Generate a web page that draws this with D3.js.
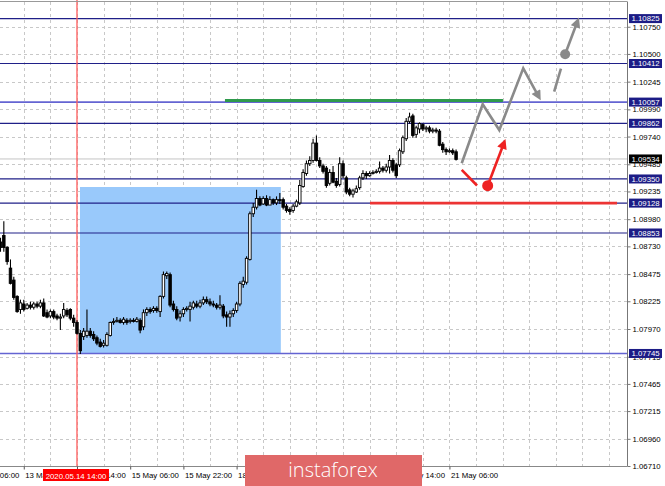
<!DOCTYPE html>
<html><head><meta charset="utf-8">
<script src="https://cdn.jsdelivr.net/npm/d3@7"></script>
<style>
body{margin:0;background:#fff;}
svg{display:block;font-family:"Liberation Sans",Arial,sans-serif;}
</style>
</head><body>
<svg id="chart" width="665" height="486"></svg>
<script>
// ---------- DATA ----------
const firstBar = -23; // bar index of the first candle (0 = 2020.05.14 14:00)
// [open, high, low, close]
const candles = [
[1.0877,1.0881,1.0868,1.0872],[1.0883,1.0896,1.0868,1.0872],[1.0872,1.0873,1.0856,1.0859],[1.0853,1.0861,1.0838,1.0839],
[1.0842,1.0845,1.0824,1.0826],[1.0827,1.0828,1.0812,1.0813],[1.0815,1.0824,1.0811,1.0821],[1.0820,1.0824,1.0813,1.0815],
[1.0816,1.0821,1.0815,1.0819],[1.0819,1.0822,1.0815,1.0817],[1.0817,1.0822,1.0815,1.0820],[1.0820,1.0822,1.0816,1.0818],
[1.0818,1.0824,1.0816,1.0821],[1.0821,1.0825,1.0808,1.0809],[1.0812,1.0815,1.0807,1.0808],[1.0809,1.0815,1.0807,1.0813],
[1.0813,1.0815,1.0806,1.0808],[1.0809,1.0811,1.0805,1.0807],[1.0807,1.0811,1.0796,1.0808],[1.0809,1.0821,1.0807,1.0815],
[1.0814,1.0816,1.0808,1.0810],[1.0815,1.0816,1.0805,1.0807],[1.0807,1.0810,1.0799,1.0803],
[1.0803,1.0805,1.0792,1.0793],[1.0793,1.0796,1.0774,1.0777],[1.0790,1.0798,1.0787,1.0795],[1.0791,1.0815,1.0789,1.0795],
[1.0795,1.0798,1.0789,1.0791],[1.0792,1.0795,1.0786,1.0788],[1.0789,1.0791,1.0782,1.0784],[1.0785,1.0788,1.0780,1.0781],
[1.0782,1.0787,1.0780,1.0784],[1.0782,1.0794,1.0781,1.0792],[1.0791,1.0804,1.0790,1.0803],[1.0803,1.0807,1.0801,1.0804],
[1.0804,1.0808,1.0803,1.0805],[1.0805,1.0807,1.0802,1.0803],[1.0803,1.0808,1.0801,1.0806],[1.0805,1.0807,1.0801,1.0803],
[1.0804,1.0807,1.0802,1.0805],[1.0805,1.0807,1.0803,1.0804],[1.0804,1.0808,1.0803,1.0806],[1.0805,1.0807,1.0793,1.0796],
[1.0799,1.0815,1.0796,1.0812],[1.0812,1.0817,1.0809,1.0815],[1.0815,1.0817,1.0811,1.0813],[1.0814,1.0818,1.0812,1.0816],
[1.0816,1.0818,1.0812,1.0814],[1.0813,1.0828,1.0808,1.0827],[1.0827,1.0850,1.0825,1.0847],[1.0846,1.0850,1.0843,1.0848],
[1.0847,1.0849,1.0817,1.0819],[1.0820,1.0823,1.0813,1.0815],[1.0815,1.0818,1.0805,1.0807],[1.0808,1.0814,1.0804,1.0811],
[1.0811,1.0817,1.0808,1.0815],[1.0815,1.0818,1.0813,1.0816],[1.0815,1.0822,1.0804,1.0818],[1.0817,1.0823,1.0815,1.0821],
[1.0820,1.0823,1.0816,1.0818],[1.0818,1.0824,1.0816,1.0821],[1.0821,1.0827,1.0819,1.0824],[1.0824,1.0827,1.0820,1.0822],
[1.0822,1.0825,1.0818,1.0820],[1.0820,1.0823,1.0817,1.0819],[1.0819,1.0821,1.0815,1.0817],[1.0817,1.0828,1.0815,1.0819],
[1.0818,1.0820,1.0807,1.0809],[1.0810,1.0813,1.0799,1.0808],[1.0808,1.0814,1.0799,1.0811],[1.0811,1.0816,1.0808,1.0814],
[1.0814,1.0822,1.0812,1.0820],[1.0820,1.0841,1.0818,1.0839],[1.0838,1.0845,1.0835,1.0841],[1.0840,1.0864,1.0838,1.0862],
[1.0861,1.0905,1.0860,1.0903],[1.0903,1.0913,1.0900,1.0909],[1.0909,1.0925,1.0907,1.0917],[1.0917,1.0919,1.0910,1.0911],
[1.0912,1.0919,1.0911,1.0917],[1.0917,1.0920,1.0910,1.0911],[1.0911,1.0919,1.0911,1.0916],[1.0916,1.0917,1.0911,1.0913],
[1.0913,1.0919,1.0911,1.0916],[1.0916,1.0922,1.0912,1.0915],[1.0916,1.0918,1.0907,1.0909],[1.0910,1.0912,1.0904,1.0906],
[1.0907,1.0909,1.0902,1.0905],[1.0906,1.0912,1.0904,1.0910],[1.0910,1.0916,1.0909,1.0914],[1.0913,1.0934,1.0911,1.0929],
[1.0928,1.0944,1.0927,1.0941],[1.0940,1.0952,1.0938,1.0949],[1.0949,1.0956,1.0947,1.0952],[1.0952,1.0972,1.0950,1.0968],
[1.0968,1.0975,1.0951,1.0952],[1.0952,1.0955,1.0945,1.0947],[1.0947,1.0949,1.0940,1.0942],[1.0945,1.0947,1.0927,1.0929],
[1.0931,1.0944,1.0929,1.0941],[1.0941,1.0947,1.0931,1.0932],[1.0933,1.0936,1.0927,1.0929],[1.0930,1.0955,1.0928,1.0949],
[1.0949,1.0952,1.0936,1.0938],[1.0936,1.0938,1.0921,1.0923],[1.0925,1.0927,1.0919,1.0921],[1.0921,1.0926,1.0918,1.0924],
[1.0923,1.0929,1.0922,1.0926],[1.0927,1.0938,1.0925,1.0936],[1.0936,1.0943,1.0934,1.0940],[1.0940,1.0942,1.0935,1.0938],
[1.0938,1.0942,1.0937,1.0940],[1.0940,1.0943,1.0939,1.0941],[1.0941,1.0944,1.0940,1.0942],[1.0942,1.0951,1.0940,1.0945],
[1.0945,1.0947,1.0941,1.0943],[1.0943,1.0949,1.0941,1.0946],[1.0946,1.0957,1.0940,1.0952],[1.0952,1.0954,1.0941,1.0943],
[1.0948,1.0950,1.0936,1.0938],[1.0948,1.0963,1.0946,1.0961],[1.0960,1.0975,1.0958,1.0973],[1.0972,1.0991,1.0970,1.0988],
[1.0988,1.0996,1.0986,1.0992],[1.0993,1.0995,1.0973,1.0975],[1.0976,1.0984,1.0973,1.0982],[1.0981,1.0987,1.0977,1.0986],
[1.0985,1.0986,1.0979,1.0981],[1.0981,1.0984,1.0978,1.0982],[1.0982,1.0984,1.0977,1.0979],[1.0979,1.0982,1.0977,1.0980],
[1.0980,1.0982,1.0977,1.0979],[1.0979,1.0981,1.0965,1.0966],[1.0967,1.0969,1.0959,1.0962],[1.0962,1.0964,1.0957,1.0960],
[1.0960,1.0963,1.0959,1.0961],[1.0961,1.0963,1.0957,1.0959],[1.0960,1.0962,1.0952,1.0953]
];
const priceTicks = [1.10750,1.10500,1.10245,1.09990,1.09740,1.09485,1.09235,1.08980,1.08730,1.08475,1.08225,1.07970,1.07715,1.07465,1.07215,1.06960,1.06710];
const levelValues = [1.10825,1.10412,1.10057,1.09862,1.09350,1.09128,1.08853,1.07745];
const lightLevels = [1.10057,1.07745];
const currentPrice = 1.09534;
const timeTickBars = [-32,-16,0,16,32,48,64,80,96,112];
const timeTickLabels = ["13 May 06:00","13 May 22:00","14 May 14:00","15 May 06:00","15 May 22:00","18 May 14:00","19 May 06:00","19 May 22:00","20 May 14:00","21 May 06:00"];
const markedBar = 0;
const markedLabel = "2020.05.14 14:00";
const zoneBars = [0.9,61.3];
const zonePrices = [1.07745,1.09276];
const resistanceBars = [44.5,128.1], resistancePrice = 1.10072;
const supportBars = [88.1,162.4], supportPrice = 1.09128;
const grayPath = [[115.7,1.09494],[122.0,1.10037],[127.0,1.09800],[134.2,1.10368],[138.3,1.10138]];
const grayDash = [[143.5,1.10153],[146.8,1.10497]];
const grayDot = [146.8,1.10497];
const grayArrow = [[146.8,1.10497],[150.1,1.10766]];
const redLine = [[115.7,1.09433],[120.3,1.09290]];
const redDot = [123.5,1.09288];
const redArrow = [[123.5,1.09288],[128.0,1.09649]];
const watermark = "instaforex";

// ---------- CHART ----------
const W = 665, H = 486;
const plotR = 627, plotB = 466;
const svg = d3.select("#chart");
const x = d3.scaleLinear().domain([firstBar, 165.4]).range([0.5, plotR]);
const y = d3.scaleLinear().domain([1.0671, 1.10996]).range([plotB, 0]);

svg.append("rect").attr("width",W).attr("height",H).attr("fill","#fff");

// grid
const gridG = svg.append("g").attr("stroke","#c8c8c8").attr("stroke-dasharray","3,3").attr("stroke-width",1);
gridG.selectAll("line.h").data(priceTicks).join("line").attr("class","h")
  .attr("x1",0).attr("x2",plotR).attr("y1",d=>Math.round(y(d))+0.5).attr("y2",d=>Math.round(y(d))+0.5);
const vGrid = d3.range(-16, 166, 8);
gridG.selectAll("line.v").data(vGrid).join("line").attr("class","v")
  .attr("y1",2).attr("y2",plotB).attr("x1",d=>Math.round(x(d))+0.5).attr("x2",d=>Math.round(x(d))+0.5);

// zone rectangle
svg.append("rect")
  .attr("x",x(zoneBars[0])).attr("width",x(zoneBars[1])-x(zoneBars[0]))
  .attr("y",y(zonePrices[1])).attr("height",y(zonePrices[0])-y(zonePrices[1]))
  .attr("fill","#99c9fb");

// current price line
svg.append("line").attr("x1",0).attr("x2",plotR).attr("y1",y(currentPrice)).attr("y2",y(currentPrice))
  .attr("stroke","#c4c4c4").attr("stroke-width",1);

// level lines
svg.append("g").selectAll("line").data(levelValues).join("line")
  .attr("x1",0).attr("x2",plotR)
  .attr("y1",d=>y(d)).attr("y2",d=>y(d))
  .attr("stroke",d=>lightLevels.includes(d)?"#6464d2":"#202088")
  .attr("stroke-width",d=>lightLevels.includes(d)?1.6:1.2);

// marked vertical line
svg.append("line").attr("x1",x(markedBar)).attr("x2",x(markedBar)).attr("y1",0).attr("y2",plotB)
  .attr("stroke","#ff5c5c").attr("stroke-width",1.3);

// resistance / support segments
svg.append("line").attr("x1",x(resistanceBars[0])).attr("x2",x(resistanceBars[1]))
  .attr("y1",y(resistancePrice)).attr("y2",y(resistancePrice)).attr("stroke","#2f9a4c").attr("stroke-width",3);
svg.append("line").attr("x1",x(supportBars[0])).attr("x2",x(supportBars[1]))
  .attr("y1",y(supportPrice)).attr("y2",y(supportPrice)).attr("stroke","#ec3434").attr("stroke-width",2.6);

// candles
const cg = svg.append("g").selectAll("g").data(candles).join("g");
cg.append("line")
  .attr("x1",(d,i)=>x(firstBar+i)).attr("x2",(d,i)=>x(firstBar+i))
  .attr("y1",d=>y(d[1])).attr("y2",d=>y(d[2]))
  .attr("stroke","#000").attr("stroke-width",1.1);
cg.append("rect")
  .attr("x",(d,i)=>x(firstBar+i)-1.25).attr("width",2.5)
  .attr("y",d=>y(Math.max(d[0],d[3])))
  .attr("height",d=>Math.max(0.9,Math.abs(y(d[0])-y(d[3]))))
  .attr("fill",d=>d[3]>=d[0]?"#fff":"#000")
  .attr("stroke","#000").attr("stroke-width",0.9);

// projection paths
const defs = svg.append("defs");
function marker(id,color){
  defs.append("marker").attr("id",id).attr("viewBox","0 0 10 10").attr("refX",2).attr("refY",5)
    .attr("markerWidth",12).attr("markerHeight",10).attr("markerUnits","userSpaceOnUse").attr("orient","auto")
    .append("path").attr("d","M0,0 L10,5 L0,10 Z").attr("fill",color);
}
marker("ag","#8a8a8a"); marker("ar","#ee2222");
const line = d3.line().x(d=>x(d[0])).y(d=>y(d[1]));
svg.append("path").attr("d",line(grayPath)).attr("fill","none").attr("stroke","#8a8a8a").attr("stroke-width",2.6)
  .attr("stroke-linejoin","miter").attr("marker-end","url(#ag)");
svg.append("path").attr("d",line(grayDash)).attr("fill","none").attr("stroke","#8a8a8a").attr("stroke-width",2.6)
  .attr("stroke-dasharray","24,40");
svg.append("path").attr("d",line(grayArrow)).attr("fill","none").attr("stroke","#8a8a8a").attr("stroke-width",2.6)
  .attr("marker-end","url(#ag)");
svg.append("circle").attr("cx",x(grayDot[0])).attr("cy",y(grayDot[1])).attr("r",5).attr("fill","#8a8a8a");
svg.append("path").attr("d",line(redLine)).attr("fill","none").attr("stroke","#ee2222").attr("stroke-width",2.6);
svg.append("path").attr("d",line(redArrow)).attr("fill","none").attr("stroke","#ee2222").attr("stroke-width",2.6)
  .attr("marker-end","url(#ar)");
svg.append("circle").attr("cx",x(redDot[0])).attr("cy",y(redDot[1])).attr("r",5.5).attr("fill","#ee2222");

// frame
svg.append("line").attr("x1",0).attr("x2",plotR).attr("y1",1.5).attr("y2",1.5).attr("stroke","#999");
svg.append("line").attr("x1",0).attr("x2",plotR).attr("y1",plotB+0.5).attr("y2",plotB+0.5).attr("stroke","#888");

// right axis
const yAxis = d3.axisRight(y).tickValues(priceTicks).tickFormat(d3.format(".5f")).tickSize(3).tickPadding(2);
const ya = svg.append("g").attr("transform",`translate(${plotR+0.5},0)`).call(yAxis);
ya.select(".domain").attr("stroke","#777").attr("d",`M0,1.5V${plotB+0.5}`);
ya.selectAll(".tick line").attr("stroke","#777");
ya.selectAll("text").attr("font-size","7.8px").attr("fill","#000").attr("font-family","Liberation Sans, Arial, sans-serif");

// level labels on axis
const lab = svg.append("g").selectAll("g").data(levelValues).join("g")
  .attr("transform",d=>`translate(629,${y(d)})`);
lab.append("rect").attr("x",0).attr("y",-4.5).attr("width",33).attr("height",9).attr("fill","#1c1c86");
lab.append("text").attr("x",2.5).attr("dy","0.35em").attr("font-size","7.8px").attr("fill","#fff").text(d=>d.toFixed(5));
const cur = svg.append("g").attr("transform",`translate(629,${y(currentPrice)})`);
cur.append("rect").attr("x",0).attr("y",-4.5).attr("width",33).attr("height",9).attr("fill","#000");
cur.append("text").attr("x",2.5).attr("dy","0.35em").attr("font-size","7.8px").attr("fill","#fff").text(currentPrice.toFixed(5));

// bottom axis
const xAxis = d3.axisBottom(x).tickValues(timeTickBars).tickFormat((d,i)=>timeTickLabels[i]).tickSize(3).tickPadding(3);
const xa = svg.append("g").attr("transform",`translate(0,${plotB+0.5})`).call(xAxis);
xa.select(".domain").remove();
xa.selectAll(".tick line").attr("stroke","#555");
xa.selectAll("text").attr("text-anchor","start").attr("x",1).attr("font-size","7.8px").attr("fill","#000")
  .attr("font-family","Liberation Sans, Arial, sans-serif");

// marked time label
const mx = x(markedBar);
svg.append("rect").attr("x",mx-34).attr("y",469).attr("width",66).attr("height",12).attr("fill","#ff0000");
svg.append("text").attr("x",mx-1).attr("y",478.5).attr("text-anchor","middle").attr("font-size","7.8px")
  .attr("fill","#fff").text(markedLabel);

// watermark
svg.append("rect").attr("x",245).attr("y",455).attr("width",177).attr("height",31).attr("fill","#e06868");
svg.append("text").attr("x",333).attr("y",477).attr("text-anchor","middle").attr("font-family","Open Sans, sans-serif")
  .attr("font-weight",300).attr("font-size","20px").attr("fill","#fff").text(watermark);
</script>
</body></html>
